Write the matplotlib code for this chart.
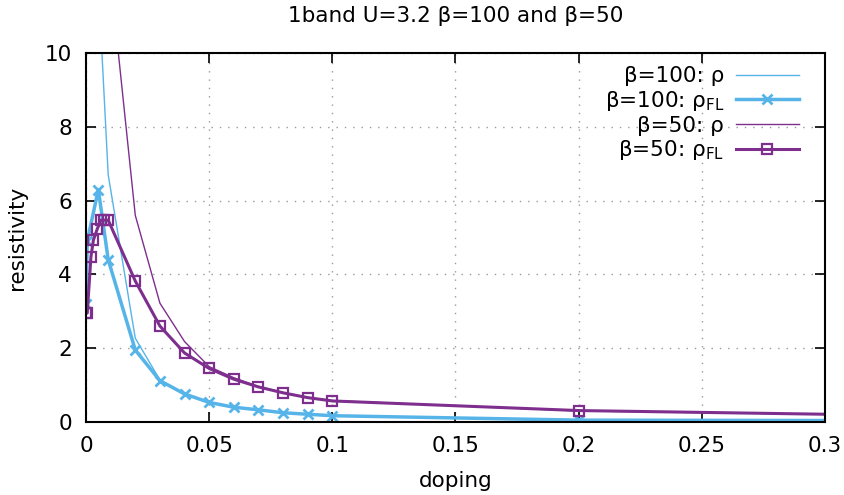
import matplotlib
matplotlib.use("Agg")
import matplotlib.pyplot as plt

# β=100 data
dop100_rho = [0.005, 0.009, 0.02, 0.03, 0.04, 0.05, 0.06, 0.07, 0.08, 0.09, 0.1, 0.2, 0.3]
rho100 = [11.9, 6.7, 2.27, 1.14, 0.76, 0.53, 0.40, 0.33, 0.25, 0.21, 0.17, 0.06, 0.05]

dop100_fl = [0.0, 0.0005, 0.005, 0.009, 0.02, 0.03, 0.04, 0.05, 0.06, 0.07, 0.08, 0.09, 0.1, 0.2, 0.3]
rhofl100 = [3.2, 4.9, 6.3, 4.4, 1.95, 1.12, 0.76, 0.53, 0.40, 0.33, 0.25, 0.21, 0.17, 0.05, 0.04]

# β=50 data
dop50_rho = [0.01, 0.02, 0.03, 0.04, 0.05, 0.06, 0.07, 0.08, 0.09, 0.1, 0.2, 0.3]
rho50 = [12.0, 5.6, 3.22, 2.18, 1.5, 1.2, 0.96, 0.8, 0.66, 0.58, 0.3, 0.21]

dop50_fl = [0.0, 0.0005, 0.002, 0.003, 0.0045, 0.006, 0.0075, 0.009, 0.02, 0.03, 0.04,
            0.05, 0.06, 0.07, 0.08, 0.09, 0.1, 0.2, 0.3]
rhofl50 = [2.95, 2.95, 4.48, 4.93, 5.22, 5.47, 5.47, 5.47, 3.82, 2.6, 1.87,
           1.45, 1.16, 0.95, 0.79, 0.66, 0.57, 0.31, 0.21]

CYAN = "#56b4e9"
PURPLE = "#7e2f8e"
FS = 15.5

fig = plt.figure(figsize=(8.45, 4.95), dpi=100)
ax = fig.add_axes([0.1018, 0.1475, 0.8745, 0.7454])

ax.plot(dop100_rho, rho100, color=CYAN, lw=1.0, label="β=100: ρ")
ax.plot(dop100_fl, rhofl100, color=CYAN, lw=2.5, marker="x", ms=6.5, mew=2,
        markevery=list(range(len(dop100_fl) - 1)),
        label=r"β=100: ρ$_\mathregular{FL}$")
ax.plot(dop50_rho, rho50, color=PURPLE, lw=1.0, label="β=50: ρ")
ax.plot(dop50_fl, rhofl50, color=PURPLE, lw=2.2, marker="s", ms=6.5, mew=1.6,
        mfc="none", markevery=list(range(len(dop50_fl) - 1)),
        label=r"β=50: ρ$_\mathregular{FL}$")

ax.set_xlim(0, 0.3)
ax.set_ylim(0, 10)
ax.set_xticks([0, 0.05, 0.1, 0.15, 0.2, 0.25, 0.3])
ax.set_xticklabels(["0", "0.05", "0.1", "0.15", "0.2", "0.25", "0.3"])
ax.set_yticks([0, 2, 4, 6, 8, 10])
ax.tick_params(direction="in", length=7, width=1.2, top=True, right=True,
               labelsize=FS, pad=10, colors="black")
ax.grid(True, color="#999999", linestyle=(0, (1, 5)), linewidth=1.0)
for sp in ax.spines.values():
    sp.set_linewidth(1.5)

ax.set_xlabel("doping", fontsize=FS, labelpad=11)
ax.set_ylabel("resistivity", fontsize=FS, labelpad=13)
ax.set_title("1band U=3.2 β=100 and β=50", fontsize=FS, pad=22)

leg = ax.legend(loc="upper right", bbox_to_anchor=(1 - 7 / 739, 1 + 6 / 369),
                markerfirst=False, frameon=False,
                fontsize=FS, handlelength=2.9, handletextpad=0.55,
                labelspacing=0.12, borderaxespad=0.5)
for t in leg.get_texts():
    t.set_ha("right")

fig.savefig("out.png", dpi=100)
